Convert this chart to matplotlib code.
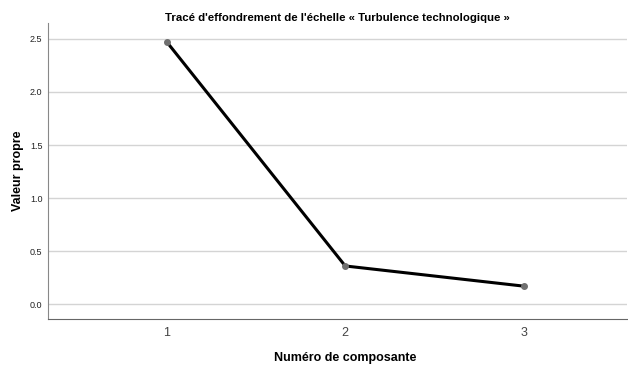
import matplotlib
matplotlib.use('Agg')
from matplotlib import pyplot as plt

plt.rcParams['font.family'] = ['Liberation Sans', 'DejaVu Sans']

composantes = [1, 2, 3]
valeurs_propres = [2.47, 0.36, 0.17]
yticks = [0.0, 0.5, 1.0, 1.5, 2.0, 2.5]

fig = plt.figure(figsize=(6.28, 3.65), dpi=100)
ax = fig.add_axes([0.0764, 0.126, 0.922, 0.811])

for v in yticks:
    ax.axhline(v, color='#d4d4d4', lw=1, zorder=1)

ax.plot(composantes, valeurs_propres, color='black', lw=2.2, zorder=2)
ax.scatter(composantes, valeurs_propres, s=16, color='#707070', zorder=3)

ax.set_xlim(0.333, 3.58)
ax.set_ylim(-0.14, 2.65)
ax.set_xticks(composantes)
ax.set_xticklabels([str(c) for c in composantes], fontsize=9, color='#444444')
ax.set_yticks(yticks)
ax.set_yticklabels(['%.1f' % v for v in yticks], fontsize=6.5, color='#222222')
ax.tick_params(axis='x', length=0, pad=6)
ax.tick_params(axis='y', length=0, pad=4)

for side in ['top', 'right']:
    ax.spines[side].set_visible(False)
ax.spines['left'].set_color('#888888')
ax.spines['bottom'].set_color('#666666')

ax.set_xlabel('Numéro de composante', fontsize=9, fontweight='bold')
ax.xaxis.set_label_coords(0.513, -0.11)
ax.set_ylabel('Valeur propre', fontsize=9, fontweight='bold')
ax.yaxis.set_label_coords(-0.042, 0.5)
fig.text(0.537, 0.951, "Tracé d'effondrement de l'échelle « Turbulence technologique »",
         ha='center', va='center', fontsize=8.2, fontweight='bold')

plt.savefig('out.png', dpi=100)
